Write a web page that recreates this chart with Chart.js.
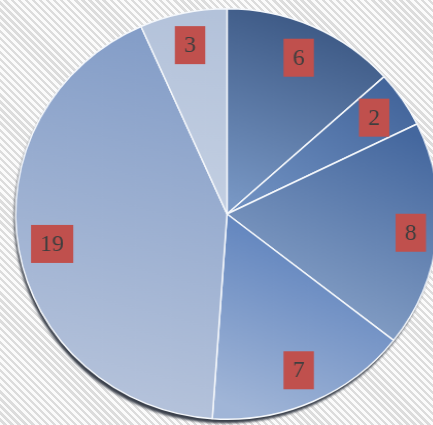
<!DOCTYPE html>
<html><head><meta charset="utf-8">
<script src="https://cdn.jsdelivr.net/npm/chart.js@4.4.0/dist/chart.umd.min.js"></script>
<style>
html,body{margin:0;padding:0;width:433px;height:425px;overflow:hidden;
background: repeating-linear-gradient(45deg, #fbfbfb 0px, #fbfbfb 2.6px, #dcdcdc 2.6px, #dcdcdc 5px);}
#wrap{position:absolute;left:0;top:0;width:440px;height:425px;transform:scaleX(1.03);transform-origin:0 0;}
</style></head>
<body><div id="wrap"><canvas id="c"></canvas></div>
<script>
// data
const categories = ['Category 1','Category 2','Category 3','Category 4','Category 5','Category 6'];
const values = [6, 2, 8, 7, 19, 3];

// styles (separate from data)
const gradTop    = ['#36527e','#43659b','#44679e','#5279b8','#829cc7','#b3c2da'];
const gradBottom = ['#7796c3','#6d8ebf','#8ea7cb','#a0b5d7','#b8c5dc','#c3cfe2'];
const boxColor = '#c0504d';
const textColor = '#3f3f3f';

function arcBox(p){
  let x0 = p.x, x1 = p.x, y0 = p.y, y1 = p.y;
  const n = 48;
  for(let k = 0; k <= n; k++){
    const a = p.startAngle + (p.endAngle - p.startAngle) * k / n;
    const px = p.x + Math.cos(a) * p.outerRadius, py = p.y + Math.sin(a) * p.outerRadius;
    x0 = Math.min(x0, px); x1 = Math.max(x1, px);
    y0 = Math.min(y0, py); y1 = Math.max(y1, py);
  }
  return {x0, x1, y0, y1};
}

function sliceFill(ctx){
  const chart = ctx.chart;
  const i = ctx.dataIndex;
  const el = ctx.element;
  if(!chart.chartArea || !el) return gradTop[i];
  const p = el.getProps(['x','y','startAngle','endAngle','outerRadius'], true);
  if(!p.outerRadius) return gradTop[i];
  const b = arcBox(p);
  const mx = (b.x0 + b.x1)/2, w = b.x1 - b.x0;
  const g = chart.ctx.createLinearGradient(mx + 0.25*w, b.y0, mx - 0.25*w, b.y1);
  g.addColorStop(0, gradTop[i]);
  g.addColorStop(1, gradBottom[i]);
  return g;
}

const shadowPlugin = {
  id:'shadow',
  beforeDatasetsDraw(chart){
    const meta = chart.getDatasetMeta(0);
    if(!meta.data.length) return;
    const p = meta.data[0].getProps(['x','y','outerRadius'], true);
    const c = chart.ctx;
    c.save();
    c.filter = 'blur(1px)';
    c.fillStyle = '#3a404b';
    c.beginPath();
    c.arc(p.x - 1.5, p.y + 4, p.outerRadius, 0, Math.PI*2);
    c.fill();
    c.restore();
  }
};

const labelPlugin = {
  id:'boxLabels',
  afterDatasetsDraw(chart){
    const meta = chart.getDatasetMeta(0);
    const c = chart.ctx;
    c.save();
    c.font = '23px "Liberation Serif", serif';
    c.textAlign = 'center';
    c.textBaseline = 'middle';
    meta.data.forEach((arc, i) => {
      const p = arc.getProps(['x','y','startAngle','endAngle','outerRadius'], true);
      const mid = (p.startAngle + p.endAngle)/2;
      const txt = String(values[i]);
      const tw = c.measureText(txt).width;
      const w = tw + 18, h = 38;
      const cs = Math.cos(mid), sn = Math.sin(mid);
      const ext = Math.abs(cs)*w/2 + Math.abs(sn)*(h/2 + 2);
      const d = p.outerRadius - 9 - ext;
      const bx = p.x + cs*d, by = p.y + sn*d;
      c.fillStyle = boxColor;
      c.fillRect(bx - w/2, by - h/2, w, h);
      c.fillStyle = textColor;
      c.fillText(txt, bx, by + 1);
    });
    c.restore();
  }
};

new Chart(document.getElementById('c'), {
  type:'pie',
  data:{
    labels: categories,
    datasets:[{
      data: values,
      backgroundColor: sliceFill,
      borderColor:'#f4f7fb',
      borderWidth:1.5,
      hoverOffset:0
    }]
  },
  options:{
    responsive:true,
    maintainAspectRatio:false,
    animation:false,
    layout:{padding:{left:14.4, right:13.6, top:8, bottom:5}},
    plugins:{legend:{display:false}, tooltip:{enabled:false}}
  },
  plugins:[shadowPlugin, labelPlugin]
});
</script>
</body></html>
